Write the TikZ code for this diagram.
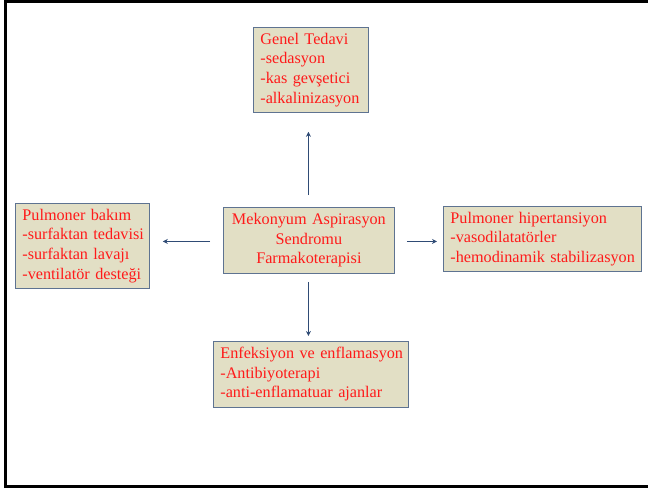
\documentclass[tikz,border=0pt]{standalone}
\usepackage{fontspec}
\setmainfont{Liberation Serif}
\usetikzlibrary{arrows.meta}
\definecolor{boxfill}{HTML}{E2DFC5}
\definecolor{boxline}{HTML}{5E7391}
\definecolor{txtred}{HTML}{FF1A1A}
\definecolor{arrowc}{HTML}{2F4B75}
\tikzset{
  box/.style={draw=boxline, line width=0.8pt, fill=boxfill, text=txtred,
    font=\rmfamily\fontsize{16.2}{19.6}\selectfont, inner sep=0pt, anchor=north west},
  conn/.style={draw=arrowc, line width=0.9pt, -{Stealth[length=5pt,width=5pt]}},
}
\begin{document}
\begin{tikzpicture}[x=1pt,y=-1pt]
\useasboundingbox (0,0) rectangle (648,488);
\draw[line width=3pt] (648,1.5) -- (5.5,1.5) -- (5.5,486) -- (648,486);
\node[box, minimum width=115pt, minimum height=85pt, text width=101pt, align=left] (t) at (253,27)
  {\mbox{Genel Tedavi}\\\mbox{-sedasyon}\\\mbox{-kas gevşetici}\\\mbox{-alkalinizasyon}};
\node[box, minimum width=134pt, minimum height=85pt, text width=120pt, align=left] (l) at (15,203)
  {\mbox{Pulmoner bakım}\\\mbox{-surfaktan tedavisi}\\\mbox{-surfaktan lavajı}\\\mbox{-ventilatör desteği}};
\node[box, minimum width=198pt, minimum height=65pt, text width=184pt, align=left] (r) at (443,206)
  {\mbox{Pulmoner hipertansiyon}\\\mbox{-vasodilatatörler}\\\mbox{-hemodinamik stabilizasyon}};
\node[box, minimum width=195pt, minimum height=66pt, text width=181pt, align=left] (b) at (213,341)
  {\mbox{Enfeksiyon ve enflamasyon}\\\mbox{-Antibiyoterapi}\\\mbox{-anti-enflamatuar ajanlar}};
\node[box, minimum width=171pt, minimum height=66pt, text width=171pt, align=center] (c) at (223,207)
  {Mekonyum Aspirasyon\\Sendromu\\Farmakoterapisi};
\draw[conn, shorten <=12pt, shorten >=19pt] ([xshift=-0.5pt]c.north) -- ([xshift=-0.5pt]c.north |- t.south);
\draw[conn, shorten <=8pt, shorten >=5pt] ([xshift=-0.5pt]c.south) -- ([xshift=-0.5pt]c.south |- b.north);
\draw[conn, shorten <=13pt, shorten >=13pt] ([yshift=-1pt]c.west) -- ([yshift=-1pt]c.west -| l.east);
\draw[conn, shorten <=12pt, shorten >=6pt] ([yshift=-1pt]c.east) -- ([yshift=-1pt]c.east -| r.west);
\end{tikzpicture}
\end{document}
